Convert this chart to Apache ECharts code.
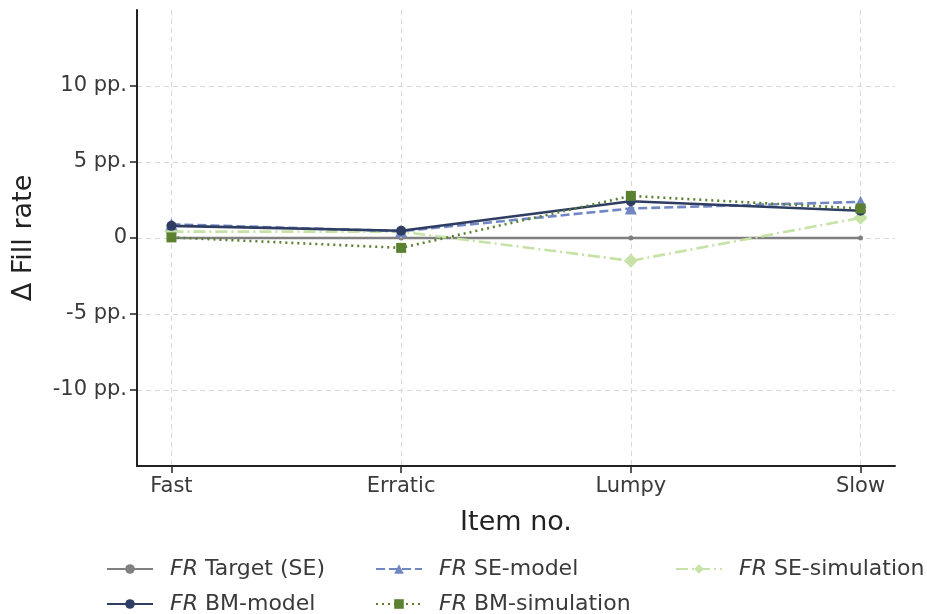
<!DOCTYPE html>
<html><head><meta charset="utf-8">
<script src="https://cdn.jsdelivr.net/npm/echarts@6/dist/echarts.min.js"></script>
<style>html,body{margin:0;padding:0;background:#fff}#c{width:927px;height:614px}</style>
</head><body><div id="c"></div>
<script>
const categories = ['Fast', 'Erratic', 'Lumpy', 'Slow'];
const yTicks = [-10, -5, 0, 5, 10];
const targetSE = [0, 0, 0, 0];
const bmModel = [0.8, 0.48, 2.42, 1.79];
const seModel = [0.9, 0.45, 1.94, 2.38];
const bmSim = [0.04, -0.65, 2.77, 1.94];
const seSim = [0.42, 0.42, -1.5, 1.33];

const pts = arr => arr.map((v, i) => [i, v]);
const F = '"DejaVu Sans", sans-serif';
const chart = echarts.init(document.getElementById('c'));
const rich = { i: { fontStyle: 'italic', fontSize: 22, color: '#3a3a3a', fontFamily: F } };

function legend(left, centerY, name) {
  return {
    orient: 'horizontal', left: left, top: centerY - 12, padding: 0, itemWidth: 46, itemHeight: 12,
    data: [name],
    formatter: n => '{i|FR} ' + n.replace('FR ', ''),
    textStyle: { fontSize: 22, color: '#3a3a3a', fontFamily: F, rich: rich, padding: [0, 0, 0, 12] }
  };
}

chart.setOption({
  animation: false,
  grid: { left: 137, right: 32, top: 10, bottom: 148, containLabel: false },
  xAxis: {
    type: 'value', min: -0.15, max: 3.15,
    name: 'Item no.', nameLocation: 'middle', nameGap: 43,
    nameTextStyle: { fontSize: 27, color: '#222', fontFamily: F },
    axisLine: { show: true, onZero: false, lineStyle: { color: '#222', width: 2 } },
    axisTick: { show: true, length: 7, lineStyle: { color: '#222', width: 1.5 }, customValues: [0, 1, 2, 3] },
    axisLabel: { customValues: [0, 1, 2, 3], formatter: v => categories[Math.round(v)], fontSize: 21, color: '#3a3a3a', fontFamily: F, margin: 10 },
    splitLine: { show: true, lineStyle: { color: '#d8d8d8', type: [5, 4], width: 1 } }
  },
  yAxis: {
    type: 'value', min: -15, max: 15,
    name: 'Δ Fill rate', nameLocation: 'middle', nameGap: 100, nameRotate: 90, nameMoveOverlap: false,
    nameTextStyle: { fontSize: 27, color: '#222', fontFamily: F },
    axisLine: { show: true, onZero: false, lineStyle: { color: '#222', width: 2 } },
    axisTick: { show: true, length: 7, lineStyle: { color: '#222', width: 1.5 }, customValues: yTicks },
    axisLabel: { customValues: yTicks, formatter: v => v === 0 ? '0' : v + ' pp.', fontSize: 21, color: '#3a3a3a', fontFamily: F, margin: 10 },
    splitLine: { show: true, lineStyle: { color: '#d8d8d8', type: [5, 4], width: 1 } }
  },
  legend: [
    legend(106, 570, 'FR Target (SE)'),
    legend(106, 605, 'FR BM-model'),
    legend(375, 570, 'FR SE-model'),
    legend(375, 605, 'FR BM-simulation'),
    legend(675, 570, 'FR SE-simulation')
  ],
  series: [
    { name: 'FR Target (SE)', type: 'line', data: pts(targetSE), symbol: 'circle', symbolSize: 5,
      lineStyle: { color: '#808080', width: 2.4 }, itemStyle: { color: '#808080' }, z: 2 },
    { name: 'FR BM-model', type: 'line', data: pts(bmModel), symbol: 'circle', symbolSize: 10,
      lineStyle: { color: '#2f3d62', width: 2.6 }, itemStyle: { color: '#2f3d62' }, z: 5 },
    { name: 'FR SE-model', type: 'line', data: pts(seModel), symbol: 'triangle', symbolSize: 12,
      lineStyle: { color: '#7187c4', width: 2.6, type: [9, 4] }, itemStyle: { color: '#7187c4' }, z: 4 },
    { name: 'FR BM-simulation', type: 'line', data: pts(bmSim), symbol: 'rect', symbolSize: 10,
      lineStyle: { color: '#5a8030', width: 2.6, type: [2, 4] }, itemStyle: { color: '#5a8030' }, z: 6 },
    { name: 'FR SE-simulation', type: 'line', data: pts(seSim), symbol: 'diamond', symbolSize: 14,
      lineStyle: { color: '#c7e2a6', width: 2.6, type: [12, 4, 2, 4] }, itemStyle: { color: '#c7e2a6' }, z: 3 }
  ]
});
</script></body></html>
